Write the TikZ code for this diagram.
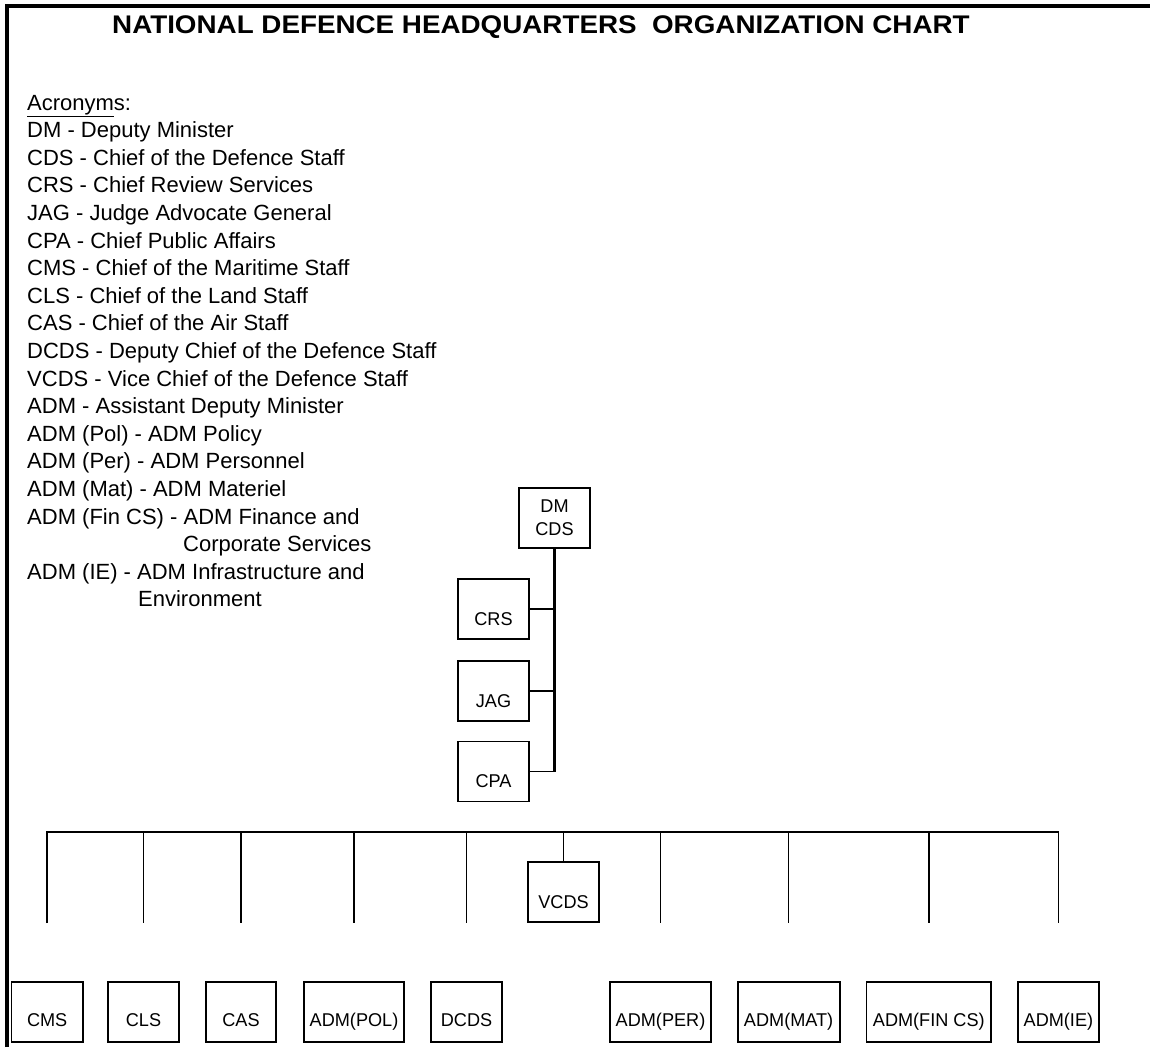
\documentclass[tikz,border=0pt]{standalone}
\usepackage{fontspec}
\setmainfont{Liberation Sans}
\newfontfamily\boxfamily[FakeStretch=0.98]{Liberation Sans}
\newfontfamily\titlefamily[FakeStretch=1.09]{Liberation Sans}
\begin{document}
\begin{tikzpicture}[x=1pt,y=-1pt,
  box/.style={draw, line width=1.8pt, inner sep=0pt, minimum height=60pt,
    minimum width=71pt, font=\boxfamily\fontsize{18.5}{21}\selectfont,
    text height=#1, text depth=0pt},
  box/.default=32pt,
  plainbox/.style={draw, line width=1.8pt, inner sep=0pt, minimum height=60pt,
    minimum width=71pt, align=center, font=\boxfamily\fontsize{18.5}{23.3}\selectfont},
  link/.style={line width=1.7pt},
  trunk/.style={line width=2.3pt},
  acr/.style={anchor=base west, inner sep=0pt, font=\fontsize{22}{26}\selectfont}
]
\useasboundingbox (0,0) rectangle (1150,1047);
% frame
\draw[line width=4pt] (7,1047) -- (7,6) -- (1150,6);
% title
\node[anchor=base west, inner sep=0pt, font=\titlefamily\bfseries\fontsize{25.5}{30}\selectfont]
  (title) at (112,33) {NATIONAL DEFENCE HEADQUARTERS\ \ ORGANIZATION CHART};
% acronyms
\node[acr] (a0) at (27,110) {\underline{Acronym}s:};
\node[acr] (a1) at (27,137.6) {DM - Deputy Minister};
\node[acr] (a2) at (27,165.2) {CDS - Chief of the Defence Staff};
\node[acr] (a3) at (27,192.8) {CRS - Chief Review Services};
\node[acr] (a4) at (27,220.4) {JAG - Judge Advocate General};
\node[acr] (a5) at (27,248) {CPA - Chief Public Affairs};
\node[acr] (a6) at (27,275.6) {CMS - Chief of the Maritime Staff};
\node[acr] (a7) at (27,303.2) {CLS - Chief of the Land Staff};
\node[acr] (a8) at (27,330.8) {CAS - Chief of the Air Staff};
\node[acr] (a9) at (27,358.4) {DCDS - Deputy Chief of the Defence Staff};
\node[acr] (a10) at (27,386) {VCDS - Vice Chief of the Defence Staff};
\node[acr] (a11) at (27,413.6) {ADM - Assistant Deputy Minister};
\node[acr] (a12) at (27,441.2) {ADM (Pol) - ADM Policy};
\node[acr] (a13) at (27,468.8) {ADM (Per) - ADM Personnel};
\node[acr] (a14) at (27,496.4) {ADM (Mat) - ADM Materiel};
\node[acr] (a15) at (27,524) {ADM (Fin CS) - ADM Finance and};
\node[acr] (a16) at (183,551.6) {Corporate Services};
\node[acr] (a17) at (27,579.2) {ADM (IE) - ADM Infrastructure and};
\node[acr] (a18) at (138,606.8) {Environment};
% top group
\node[plainbox] (dm) at (554.5,518) {DM\\CDS};
\node[box] (crs) at (493.5,609) {CRS};
\node[box] (jag) at (493.5,691) {JAG};
\node[box] (cpa) at (493.5,771.5) {CPA};
\draw[trunk] (dm.south) -- (dm.south |- cpa.east) coordinate (tend);
\draw[link] (crs.east) -- (crs.east -| dm.south);
\draw[link] (jag.east) -- (jag.east -| dm.south);
\draw[link] (cpa.east) -- (tend);
% VCDS
\node[box] (vcds) at (563.5,892) {VCDS};
% bottom row
\node[box=28pt, minimum width=71.5pt] (cms) at (47.2,1012) {CMS};
\node[box=28pt] (cls) at (143.5,1012) {CLS};
\node[box=28pt, minimum width=70pt] (cas) at (241,1012) {CAS};
\node[box=28pt, minimum width=100pt] (pol) at (354,1012) {ADM(POL)};
\node[box=28pt] (dcds) at (466.5,1012) {DCDS};
\node[box=28pt, minimum width=101pt] (per) at (660.5,1012) {ADM(PER)};
\node[box=28pt, minimum width=102pt] (mat) at (788.6,1012) {ADM(MAT)};
\node[box=28pt, minimum width=124.5pt] (fin) at (928.8,1012) {ADM(FIN CS)};
\node[box=28pt, minimum width=81.3pt] (ie) at (1058.4,1012) {ADM(IE)};
% bus
\coordinate (busy) at (0,831.7);
\coordinate (dropy) at (0,923);
\draw[link] (cms.north |- dropy) -- (cms.north |- busy) -- (ie.north |- busy) -- (ie.north |- dropy);
\foreach \n in {cls,cas,pol,dcds,per,mat,fin}
  \draw[link] (\n.north |- busy) -- (\n.north |- dropy);
\draw[link] (vcds.north) -- (vcds.north |- busy);
\end{tikzpicture}
\end{document}
